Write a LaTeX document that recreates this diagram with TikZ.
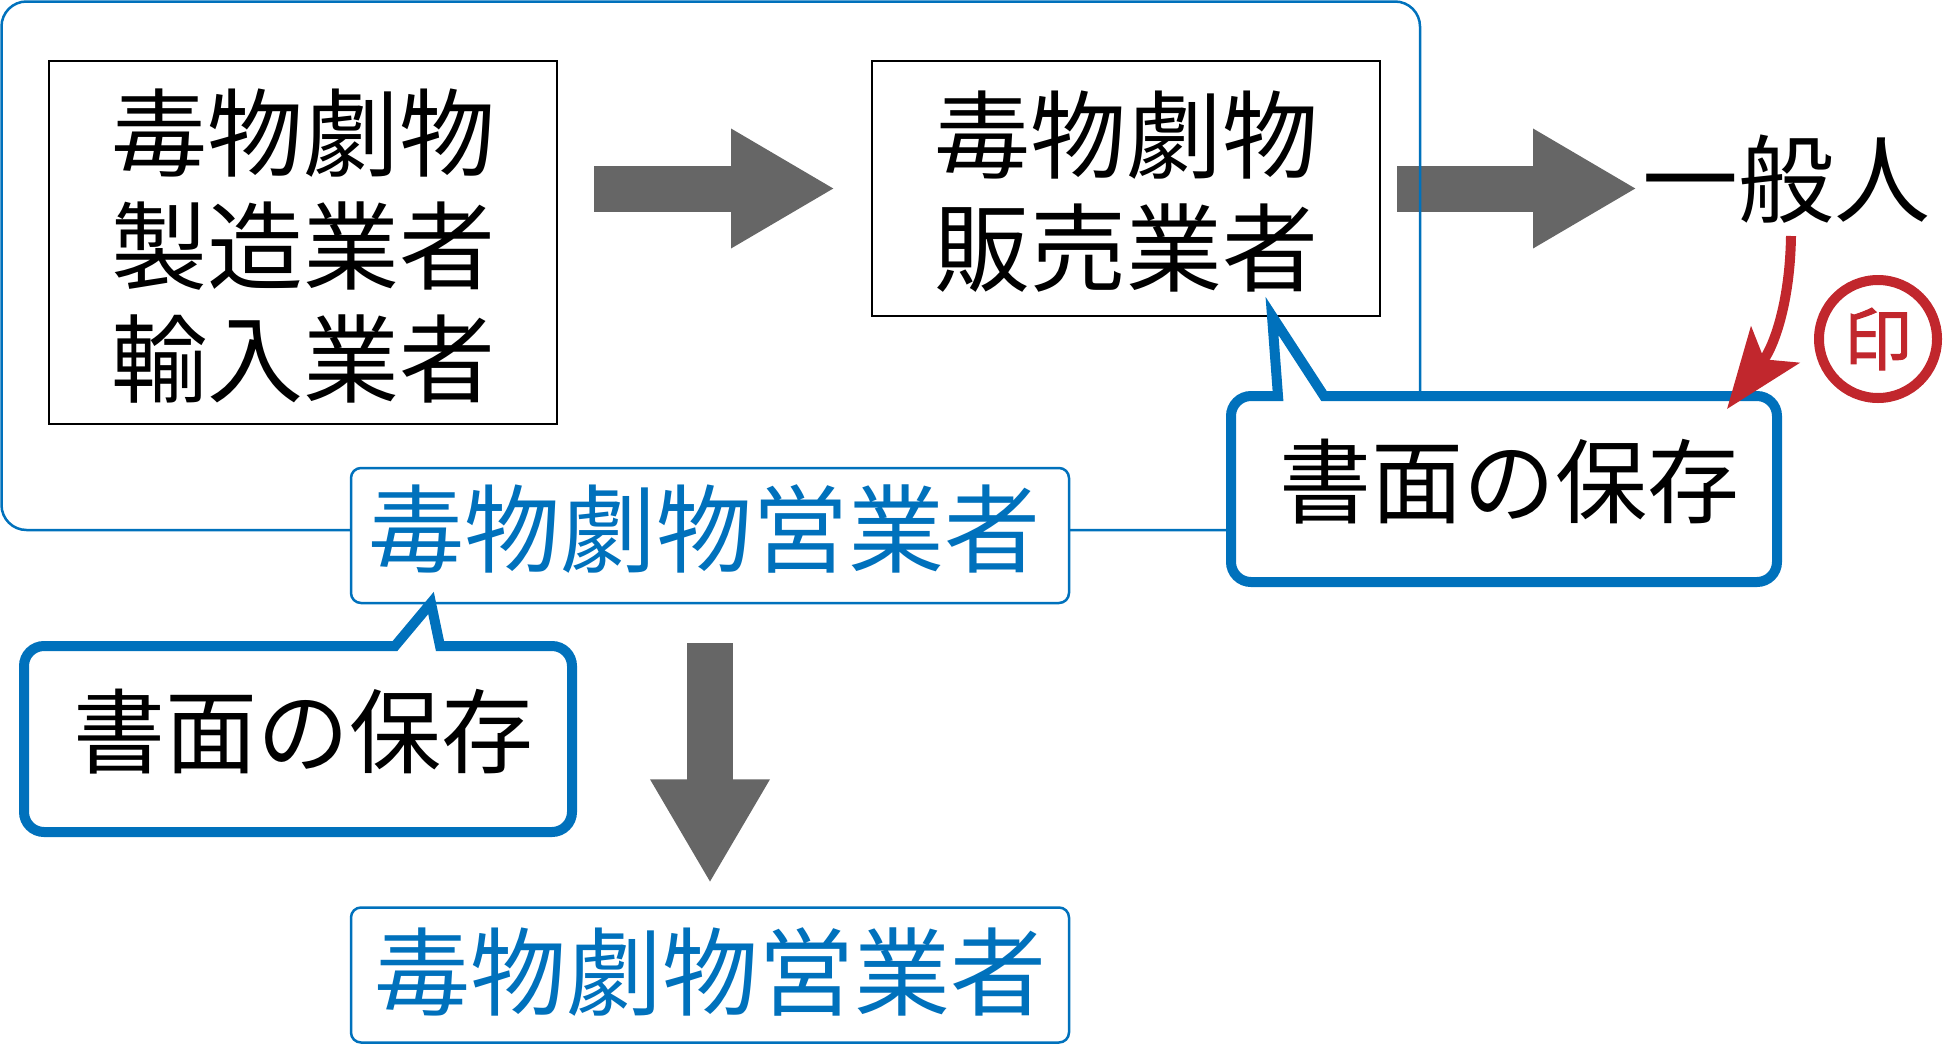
\documentclass[tikz,border=0pt]{standalone}
\usepackage{fontspec}
\setmainfont{Noto Sans CJK JP}
\newfontfamily\sealfont[FakeBold=1.5]{Noto Sans CJK JP}
\usetikzlibrary{arrows.meta,positioning,calc}
\definecolor{Frame}{HTML}{0071BC}
\definecolor{Bigarrow}{HTML}{666666}
\definecolor{Seal}{HTML}{C1272D}
\tikzset{
  bigtext/.style={font=\fontsize{96pt}{113pt}\selectfont,align=center,inner sep=0pt},
  bubbletext/.style={font=\fontsize{92pt}{113pt}\selectfont,inner sep=0pt},
  blackbox/.style={draw=black,line width=2pt,inner sep=0pt},
  bluelabel/.style={draw=Frame,fill=white,line width=2.5pt,rounded corners=10pt,minimum width=718pt,minimum height=135pt,inner sep=0pt},
  bigarrow/.style={draw=Bigarrow,line width=46pt,-{Triangle[length=104pt,width=112pt]}},
  savebubble/.style={draw=Frame,fill=white,line width=10pt,miter limit=20},
}

\begin{document}
\begin{tikzpicture}[x=1pt,y=-1pt]
\useasboundingbox (0,0) rectangle (1943,1044);
\node[blackbox,minimum width=508pt,minimum height=363pt] (maker) at (303,242.5) {};
\node[bigtext] (makertext) at ($(maker)+(0,3.5)$) {毒物劇物\\製造業者\\輸入業者};
\node[blackbox,minimum width=508pt,minimum height=255pt] (dealer) at (1126,188.5) {};
\node[bigtext] (dealertext) at ($(dealer)+(0,3.5)$) {毒物劇物\\販売業者};
\node[bigtext] (public) at (1786,179) {一般人};
\draw[bigarrow,shorten <=36pt,shorten >=36pt] (maker.east |- dealer.west) -- (dealer.west);
\coordinate (publicfront) at (1637,188.5);
\draw[bigarrow,shorten <=16pt] (dealer.east) -- (publicfront);
\draw[Frame,line width=2.5pt,rounded corners=25pt] (1.5,1.5) rectangle (1420,530);
% first bubble, tail goes up to the dealer
\draw[savebubble,rounded corners=20pt] (1278,396) -- (1231,396) -- (1231,582) -- (1777,582) -- (1777,396) [sharp corners] -- (1324,396) -- (1272,316) -- cycle;
\node[bubbletext] (saveright) at (1509,482) {書面の保存};
\node[bluelabel] (tradeup) at (710,535.5) {};
\node[bigtext,text=Frame] (tradeuptext) at (704,529.5) {毒物劇物営業者};
\node[bluelabel] (tradedown) at (710,975) {};
\node[bigtext,text=Frame] (tradedowntext) at (710.5,972.5) {毒物劇物営業者};
\draw[bigarrow,shorten <=39pt,shorten >=23pt] (tradeup.south) -- (tradedown.north);
% second bubble, tail goes up to the label
\draw[savebubble,rounded corners=20pt] (395,646) -- (24,646) -- (24,832) -- (572,832) -- (572,646) [sharp corners] -- (440,646) -- (431,603) -- cycle;
\node[bubbletext] (saveleft) at (303,732) {書面の保存};
% seal
\node[circle,draw=Seal,line width=10pt,minimum size=118pt,inner sep=0pt,text=Seal,font=\fontsize{68pt}{68pt}\sealfont] (seal) at (1878,339) {印};
\coordinate (sealfrom) at (1791,236);
\coordinate (sealto) at (1727,409);
\draw[Seal,line width=10pt,-{Stealth[length=80pt,width=60pt,inset=18pt]}] (sealfrom) .. controls (1790,300) and (1775,345) .. (sealto);
\end{tikzpicture}
\end{document}
